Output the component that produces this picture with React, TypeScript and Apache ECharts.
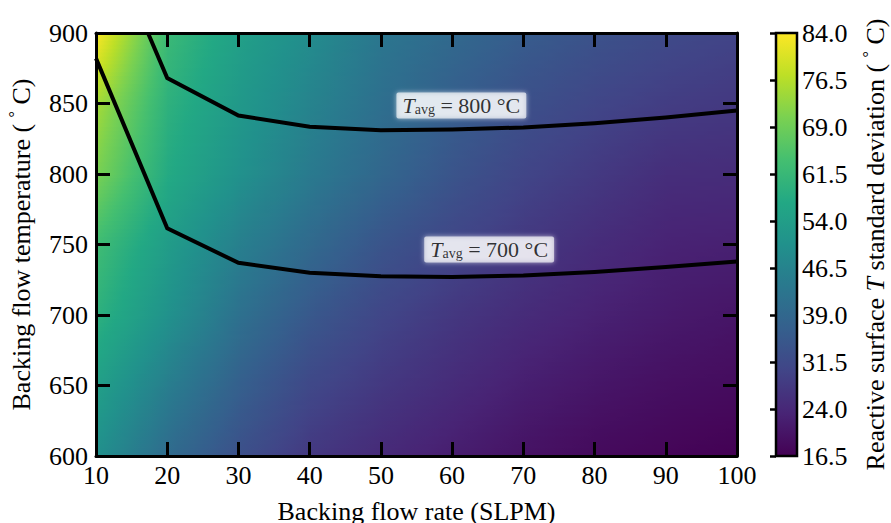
import React, { useEffect, useRef } from "react";
import * as echarts from "echarts";

// Grid of the field: backing flow rate (SLPM) × backing flow temperature (°C)
const FLOW_RATE = [10, 20, 30, 40, 50, 60, 70, 80, 90, 100];
const BACKING_TEMP = [600, 650, 700, 750, 800, 850, 900];

// Reactive-surface temperature standard deviation (°C), one row per backing temperature
const STD_AT_600 = [50.0, 40.0, 33.0, 27.5, 24.5, 22.0, 19.8, 18.2, 17.3, 16.5];
const STD_AT_650 = [54.5, 45.0, 37.0, 31.0, 27.5, 24.8, 22.2, 20.5, 19.2, 18.5];
const STD_AT_700 = [59.5, 50.5, 41.5, 35.0, 30.5, 27.3, 24.8, 22.8, 21.3, 20.3];
const STD_AT_750 = [63.0, 53.5, 45.5, 39.5, 34.0, 30.5, 27.5, 25.0, 23.0, 22.5];
const STD_AT_800 = [70.5, 57.5, 50.5, 44.0, 38.8, 34.0, 30.3, 27.8, 25.3, 25.0];
const STD_AT_850 = [75.0, 59.5, 52.5, 46.5, 41.0, 36.5, 33.0, 30.5, 28.5, 27.5];
const STD_AT_900 = [84.0, 62.0, 54.5, 49.0, 43.0, 39.5, 36.0, 33.5, 31.5, 30.0];
const STD_ROWS = [STD_AT_600, STD_AT_650, STD_AT_700, STD_AT_750, STD_AT_800, STD_AT_850, STD_AT_900];

// Average-temperature contours
const T800_RATE = [17.3, 20, 30, 40, 50, 60, 70, 80, 90, 100];
const T800_TEMP = [900, 868, 841.5, 833.5, 831, 831.5, 833, 836, 840, 845];
const T700_RATE = [10, 20, 30, 40, 50, 60, 70, 80, 90, 100];
const T700_TEMP = [882, 761.5, 737, 730, 727.5, 727, 728, 730.5, 734, 738];

// Colour bar
const CBAR_MIN = 16.5;
const CBAR_MAX = 84.0;
const CBAR_TICKS = [16.5, 24.0, 31.5, 39.0, 46.5, 54.0, 61.5, 69.0, 76.5, 84.0];

// Contour label anchors (data coordinates)
const LABEL_800_AT = [61.3, 848.5];
const LABEL_700_AT = [65.2, 746.5];

const FONT = "'Liberation Serif', 'Times New Roman', serif";

const VIRIDIS = [
  "#440154", "#482475", "#414487", "#355f8d", "#2a788e", "#21918c",
  "#22a884", "#44bf70", "#7ad151", "#bddf26", "#fde725",
];
const VIRIDIS_RGB = VIRIDIS.map((h) => {
  const n = parseInt(h.slice(1), 16);
  return [(n >> 16) & 255, (n >> 8) & 255, n & 255];
});

function viridis(t: number): string {
  const c = Math.min(1, Math.max(0, t)) * (VIRIDIS_RGB.length - 1);
  const k = Math.min(Math.floor(c), VIRIDIS_RGB.length - 2);
  const f = c - k;
  const a = VIRIDIS_RGB[k];
  const b = VIRIDIS_RGB[k + 1];
  const ch = (m: number) => Math.round(a[m] + (b[m] - a[m]) * f);
  return `rgb(${ch(0)},${ch(1)},${ch(2)})`;
}

function colorOf(v: number): string {
  return viridis((v - CBAR_MIN) / (CBAR_MAX - CBAR_MIN));
}

function contourLabel(temp: string) {
  return `{t|T}{s|avg}{n| = ${temp} °C}`;
}

export default function App() {
  const ref = useRef<HTMLDivElement>(null);

  useEffect(() => {
    if (!ref.current) return;
    const chart = echarts.init(ref.current, null, { renderer: "svg" });

    const cells: number[][] = [];
    for (let j = 0; j < BACKING_TEMP.length - 1; j++) {
      for (let i = 0; i < FLOW_RATE.length - 1; i++) {
        cells.push([FLOW_RATE[i], BACKING_TEMP[j], i, j]);
      }
    }

    const STRIPS = 18;
    const SAMPLES = 8;

    // Each grid cell is filled with bilinearly blended colours, drawn as
    // thin horizontal strips carrying a multi-stop gradient.
    const renderCell = (params: any, api: any) => {
      const i = api.value(2);
      const j = api.value(3);
      const bl = api.coord([FLOW_RATE[i], BACKING_TEMP[j]]);
      const tr = api.coord([FLOW_RATE[i + 1], BACKING_TEMP[j + 1]]);
      const v00 = STD_ROWS[j][i];
      const v10 = STD_ROWS[j][i + 1];
      const v01 = STD_ROWS[j + 1][i];
      const v11 = STD_ROWS[j + 1][i + 1];
      const left = bl[0];
      const right = tr[0];
      const top = tr[1];
      const bottom = bl[1];
      const h = (bottom - top) / STRIPS;
      const children: any[] = [];
      for (let s = 0; s < STRIPS; s++) {
        const fy = 1 - (s + 0.5) / STRIPS;
        const vl = v00 + (v01 - v00) * fy;
        const vr = v10 + (v11 - v10) * fy;
        const stops = [];
        for (let k = 0; k <= SAMPLES; k++) {
          const f = k / SAMPLES;
          stops.push({ offset: f, color: colorOf(vl + (vr - vl) * f) });
        }
        children.push({
          type: "rect",
          silent: true,
          shape: { x: left, y: top + s * h, width: right - left + 1, height: h + 1 },
          style: { fill: new echarts.graphic.LinearGradient(0, 0, 1, 0, stops) },
        });
      }
      return { type: "group", children };
    };

    const renderColorbar = (params: any, api: any) => {
      const tl = api.coord([0, CBAR_MAX]);
      const br = api.coord([1, CBAR_MIN]);
      const stops = VIRIDIS.map((c, k) => ({ offset: k / (VIRIDIS.length - 1), color: c }));
      return {
        type: "rect",
        silent: true,
        shape: { x: tl[0], y: tl[1], width: br[0] - tl[0], height: br[1] - tl[1] },
        style: {
          fill: new echarts.graphic.LinearGradient(0, 1, 0, 0, stops),
          stroke: "#000",
          lineWidth: 2.5,
        },
      };
    };

    const tickStyle = { color: "#000", width: 3 };
    const labelStyle = { color: "#000", fontSize: 26, fontFamily: FONT };
    const frameAxis = (extra: any) => ({
      type: "value",
      z: 5,
      axisLine: { show: true, onZero: false, lineStyle: { color: "#000", width: 3 } },
      axisTick: { show: true, inside: true, length: 14, lineStyle: tickStyle },
      splitLine: { show: false },
      ...extra,
    });

    const contourLabelOpts = {
      show: true,
      position: "inside",
      backgroundColor: "rgba(255,255,255,0.82)",
      shadowColor: "rgba(255,255,255,0.9)",
      shadowBlur: 5,
      padding: [2, 6, 2, 6],
      borderRadius: 2,
      rich: {
        t: { fontStyle: "italic", fontSize: 22, fontFamily: FONT, color: "#000", lineHeight: 22 },
        s: { fontSize: 14, fontFamily: FONT, color: "#000", verticalAlign: "bottom", lineHeight: 13 },
        n: { fontSize: 22, fontFamily: FONT, color: "#000", lineHeight: 22 },
      },
    };

    const nameRich = {
      deg: { fontSize: 16, lineHeight: 16, verticalAlign: "top", fontFamily: FONT, color: "#000" },
      i: { fontStyle: "italic", fontSize: 26, fontFamily: FONT, color: "#000" },
    };

    chart.setOption({
      animation: false,
      textStyle: { fontFamily: FONT },
      grid: [
        { left: 96, top: 33, width: 641, height: 423, containLabel: false, outerBoundsMode: "none" },
        { left: 776, top: 33, width: 21, height: 423, containLabel: false, outerBoundsMode: "none" },
      ],
      xAxis: [
        frameAxis({
          gridIndex: 0,
          position: "bottom",
          min: 10,
          max: 100,
          interval: 10,
          axisLabel: { ...labelStyle, margin: 6 },
          name: "Backing flow rate (SLPM)",
          nameLocation: "middle",
          nameGap: 42,
          nameTextStyle: { ...labelStyle },
        }),
        frameAxis({
          gridIndex: 0,
          position: "top",
          min: 10,
          max: 100,
          interval: 10,
          axisLabel: { show: false },
        }),
        { type: "value", gridIndex: 1, min: 0, max: 1, show: false },
      ],
      yAxis: [
        frameAxis({
          gridIndex: 0,
          position: "left",
          min: 600,
          max: 900,
          interval: 50,
          axisLabel: { ...labelStyle, margin: 8 },
          name: "Backing flow temperature ( {deg|°} C)",
          nameLocation: "middle",
          nameRotate: 90,
          nameGap: 60,
          nameTextStyle: { ...labelStyle, lineHeight: 30, rich: nameRich },
        }),
        frameAxis({
          gridIndex: 0,
          position: "right",
          min: 600,
          max: 900,
          interval: 50,
          axisLabel: { show: false },
        }),
        {
          type: "value",
          gridIndex: 1,
          position: "right",
          min: CBAR_MIN,
          max: CBAR_MAX,
          z: 5,
          axisLine: { show: false },
          axisTick: {
            show: true,
            inside: true,
            length: 6,
            lineStyle: { color: "#000", width: 2.5 },
            customValues: CBAR_TICKS,
          },
          axisLabel: {
            ...labelStyle,
            margin: 5,
            customValues: CBAR_TICKS,
            formatter: (v: number) => v.toFixed(1),
          },
          splitLine: { show: false },
          name: "Reactive surface {i|T} standard deviation ( {deg|°} C)",
          nameLocation: "middle",
          nameRotate: 90,
          nameGap: 63,
          nameTextStyle: { ...labelStyle, lineHeight: 30, rich: nameRich },
        },
      ],
      series: [
        {
          type: "custom",
          name: "std",
          xAxisIndex: 0,
          yAxisIndex: 0,
          z: 1,
          silent: true,
          encode: { x: 0, y: 1 },
          data: cells,
          renderItem: renderCell,
        },
        {
          type: "line",
          name: "T800",
          xAxisIndex: 0,
          yAxisIndex: 0,
          z: 3,
          symbol: "none",
          silent: true,
          clip: true,
          lineStyle: { color: "#000", width: 4, join: "miter" },
          data: T800_RATE.map((r, k) => [r, T800_TEMP[k]]),
        },
        {
          type: "line",
          name: "T700",
          xAxisIndex: 0,
          yAxisIndex: 0,
          z: 3,
          symbol: "none",
          silent: true,
          clip: true,
          lineStyle: { color: "#000", width: 4, join: "miter" },
          data: T700_RATE.map((r, k) => [r, T700_TEMP[k]]),
        },
        {
          type: "scatter",
          xAxisIndex: 0,
          yAxisIndex: 0,
          z: 4,
          symbolSize: 0,
          silent: true,
          data: [LABEL_800_AT],
          label: { ...contourLabelOpts, formatter: contourLabel("800") },
        },
        {
          type: "scatter",
          xAxisIndex: 0,
          yAxisIndex: 0,
          z: 4,
          symbolSize: 0,
          silent: true,
          data: [LABEL_700_AT],
          label: { ...contourLabelOpts, formatter: contourLabel("700") },
        },
        {
          type: "custom",
          name: "colorbar",
          xAxisIndex: 2,
          yAxisIndex: 2,
          z: 1,
          silent: true,
          encode: { x: 0, y: 1 },
          data: [[0.5, (CBAR_MIN + CBAR_MAX) / 2]],
          renderItem: renderColorbar,
        },
      ],
    });

    return () => chart.dispose();
  }, []);

  return (
    <div
      ref={ref}
      style={{ position: "fixed", left: 0, top: 0, width: 891, height: 523, background: "#fff" }}
    />
  );
}
